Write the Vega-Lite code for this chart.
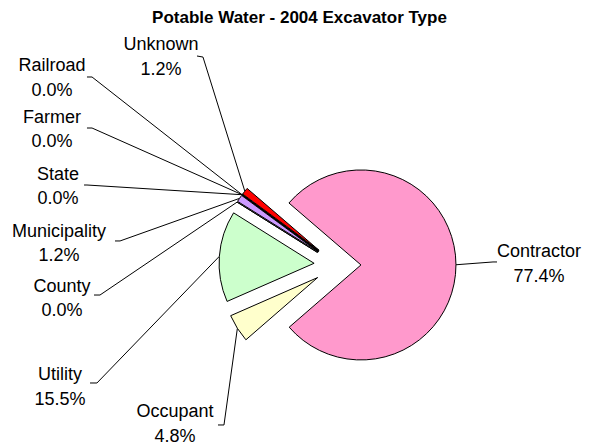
{
  "$schema": "https://vega.github.io/schema/vega-lite/v6.json",
  "width": 589,
  "height": 415,
  "autosize": {"type": "none"},
  "padding": {"top": 30, "left": 0, "right": 0, "bottom": 0},
  "background": "white",
  "title": {
    "text": "Potable Water - 2004 Excavator Type",
    "font": "Liberation Sans",
    "fontSize": 17,
    "fontWeight": "bold",
    "color": "black",
    "anchor": "middle",
    "frame": "group",
    "offset": 3,
    "dx": 5
  },
  "config": {"view": {"stroke": null}},
  "data": {
    "values": [
      {"category": "Contractor", "value": 77.4, "lx": 2.121, "ly": 0.084, "ax": 1.679, "ay": 0.032, "bx": 1.637, "by": 0.032},
      {"category": "Occupant", "value": 4.8, "lx": -1.711, "ly": -1.6, "ax": -1.258, "ay": -1.684, "bx": -1.195, "by": -1.684},
      {"category": "Utility", "value": 15.5, "lx": -2.921, "ly": -1.211, "ax": -2.605, "ay": -1.242, "bx": -2.532, "by": -1.242},
      {"category": "County", "value": 0, "lx": -2.9, "ly": -0.284, "ax": -2.563, "ay": -0.316, "bx": -2.5, "by": -0.316},
      {"category": "Municipality", "value": 1.2, "lx": -2.932, "ly": 0.295, "ax": -2.342, "ay": 0.253, "bx": -2.289, "by": 0.253},
      {"category": "State", "value": 0, "lx": -2.942, "ly": 0.895, "ax": -2.668, "ay": 0.842, "bx": -2.637, "by": 0.842},
      {"category": "Farmer", "value": 0, "lx": -3.005, "ly": 1.495, "ax": -2.637, "ay": 1.442, "bx": -2.584, "by": 1.442},
      {"category": "Railroad", "value": 0, "lx": -3.005, "ly": 2.042, "ax": -2.637, "ay": 1.979, "bx": -2.584, "by": 1.979},
      {"category": "Unknown", "value": 1.2, "lx": -1.858, "ly": 2.263, "ax": -1.479, "ay": 2.2, "bx": -1.416, "by": 2.189}
    ]
  },
  "transform": [
    {"window": [{"op": "sum", "field": "value", "as": "cum"}], "frame": [null, 0]},
    {"calculate": "datum.cum - datum.value", "as": "start"},
    {"calculate": "5.4227 + 2 * PI * (datum.cum - datum.value / 2) / 100.1", "as": "mid"},
    {"calculate": "0.247 * sin(datum.mid)", "as": "cx"},
    {"calculate": "0.247 * cos(datum.mid)", "as": "cy"},
    {"calculate": "datum.cx + sin(datum.mid)", "as": "ex"},
    {"calculate": "datum.cy + cos(datum.mid)", "as": "ey"},
    {"calculate": "[datum.category, format(datum.value, '.1f') + '%']", "as": "txt"}
  ],
  "layer": [
    {
      "mark": {"type": "rule", "color": "black", "strokeWidth": 1},
      "encoding": {
        "x": {"field": "ax", "type": "quantitative", "scale": {"domain": [-3.5526, 2.6474], "nice": false, "zero": false}, "axis": null},
        "y": {"field": "ay", "type": "quantitative", "scale": {"domain": [-1.8947, 2.4737], "nice": false, "zero": false}, "axis": null},
        "x2": {"field": "bx"},
        "y2": {"field": "by"}
      }
    },
    {
      "mark": {"type": "rule", "color": "black", "strokeWidth": 1},
      "encoding": {
        "x": {"field": "bx", "type": "quantitative"},
        "y": {"field": "by", "type": "quantitative"},
        "x2": {"field": "ex"},
        "y2": {"field": "ey"}
      }
    },
    {
      "mark": {"type": "arc", "radius": 95, "stroke": "black", "strokeWidth": 1},
      "encoding": {
        "x": {"field": "cx", "type": "quantitative"},
        "y": {"field": "cy", "type": "quantitative"},
        "theta": {"field": "start", "type": "quantitative", "stack": null, "scale": {"domain": [0, 100.1], "range": [5.4227, 11.7059], "zero": false, "nice": false}},
        "theta2": {"field": "cum"},
        "color": {
          "field": "category",
          "type": "nominal",
          "legend": null,
          "scale": {
            "domain": ["Contractor", "Occupant", "Utility", "County", "Municipality", "State", "Farmer", "Railroad", "Unknown"],
            "range": ["#FF99CC", "#FFFFCC", "#CCFFCC", "#9999FF", "#CC99FF", "#99CCFF", "#FF8080", "#CCCCFF", "#FF0000"]
          }
        }
      }
    },
    {
      "mark": {"type": "text", "font": "Liberation Sans", "fontSize": 18, "lineHeight": 24.5, "align": "center", "baseline": "alphabetic", "color": "black"},
      "encoding": {
        "x": {"field": "lx", "type": "quantitative"},
        "y": {"field": "ly", "type": "quantitative"},
        "text": {"field": "txt"}
      }
    }
  ]
}
